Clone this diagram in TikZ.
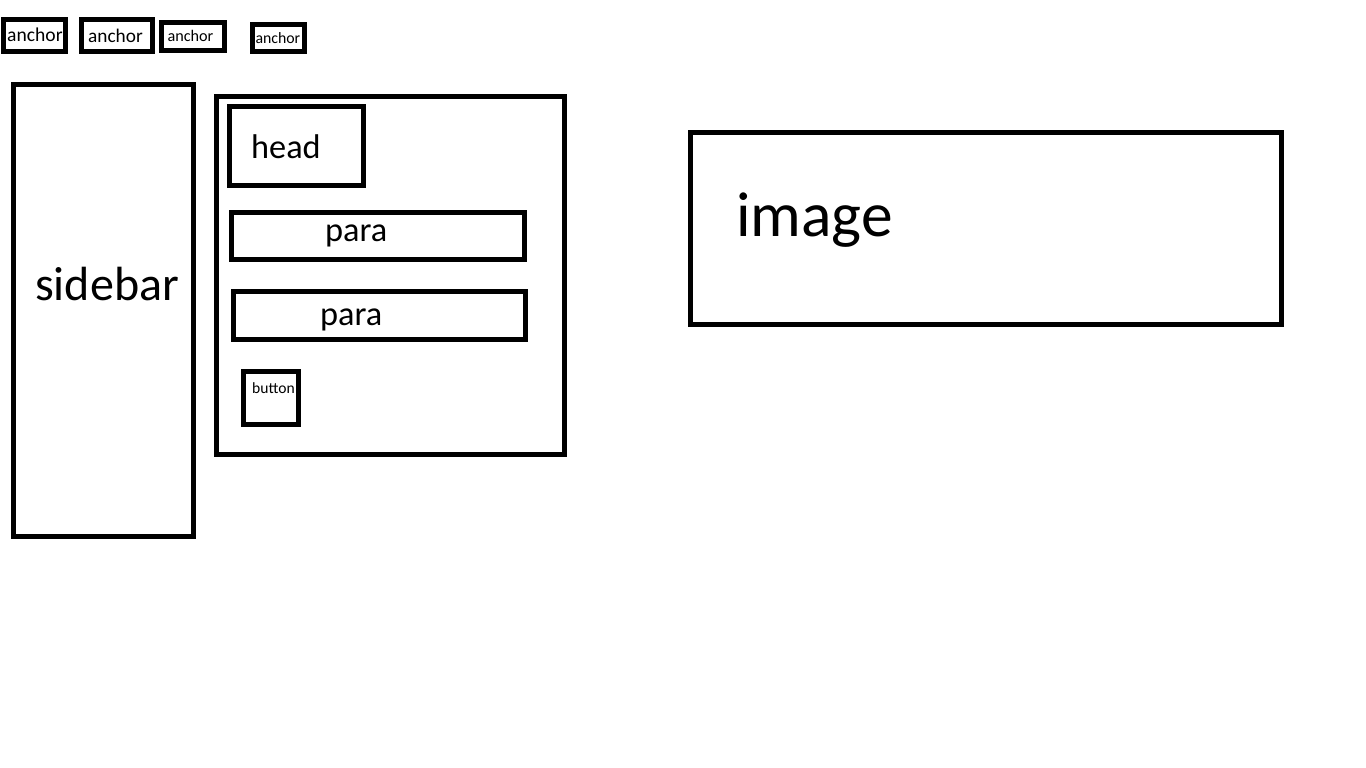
\documentclass[tikz,border=0pt]{standalone}
\usepackage{fontspec}
\setmainfont{Carlito}
\usepackage{tikz}
\usetikzlibrary{fit}
\tikzstyle{frame}=[draw, line width=5pt, inner sep=0pt]
\tikzstyle{tag}=[anchor=base west, inner sep=0pt]
\newcommand{\fsz}[1]{\fontsize{#1}{#1}\selectfont}

\begin{document}
\begin{tikzpicture}[x=1pt,y=-1pt]
	\useasboundingbox (0,0) rectangle (1366,768);
	\node[frame, fit={(3.7,19.2) (65.8,51.8)}] (anchorA) {};
	\node[frame, fit={(81.5,19.8) (152.5,51.2)}] (anchorB) {};
	\node[frame, fit={(161.7,22.5) (224.2,50.2)}] (anchorC) {};
	\node[frame, fit={(252.5,24.2) (304.2,51.7)}] (anchorD) {};
	\node[tag, font=\fsz{19.6}] (anchorAtxt) at (7,41.7) {anchor};
	\node[tag, font=\fsz{19.3}] (anchorBtxt) at (88,42.3) {anchor};
	\node[tag, font=\fsz{16.2}] (anchorCtxt) at (167.3,41.7) {anchor};
	\node[tag, font=\fsz{15.8}] (anchorDtxt) at (255.3,43.3) {anchor};
	\node[frame, fit={(13.5,84.2) (193.2,536.8)}] (sidebar) {};
	\node[tag, font=\fsz{48}] (sidebartxt) at (35,300) {sidebar};
	\node[frame, fit={(216.5,96.7) (564,454)}] (content) {};
	\node[frame, fit={(229.3,106.5) (363.8,185.8)}] (head) {};
	\node[frame, fit={(231.5,212.5) (524.5,259.2)}] (paraA) {};
	\node[frame, fit={(233.2,291.5) (525.5,339.2)}] (paraB) {};
	\node[frame, fit={(243.5,371.5) (298.3,424.2)}] (button) {};
	\node[tag, font=\fsz{34.3}] (headtxt) at (251,158.3) {head};
	\node[tag, font=\fsz{34.3}] (paraAtxt) at (325,241.7) {para};
	\node[tag, font=\fsz{34.3}] (paraBtxt) at (320,325) {para};
	\node[tag, font=\fsz{15.6}] (buttontxt) at (252,393.3) {button};
	\node[frame, fit={(690.8,132.5) (1281.5,324.8)}] (image) {};
	\node[tag, font=\fsz{63.5}] (imagetxt) at (736,236.7) {image};
\end{tikzpicture}
\end{document}
